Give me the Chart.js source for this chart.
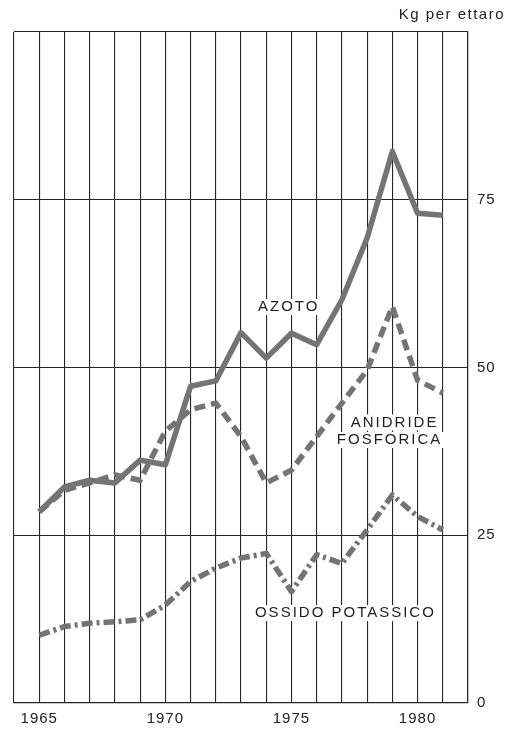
<!DOCTYPE html>
<html>
<head>
<meta charset="utf-8">
<script src="https://cdn.jsdelivr.net/npm/chart.js@4"></script>
<style>
  html, body { margin: 0; padding: 0; background: #fff; }
  canvas { display: block; letter-spacing: 1px; }
</style>
</head>
<body>
<canvas id="grafico" width="511" height="733"></canvas>
<script>
// Anni e consumi di fertilizzanti (kg per ettaro)
const anni = [1965, 1966, 1967, 1968, 1969, 1970, 1971, 1972, 1973, 1974, 1975, 1976, 1977, 1978, 1979, 1980, 1981];
const azoto = [28.5, 32.2, 33.2, 32.8, 36.2, 35.5, 47.2, 48.0, 55.2, 51.4, 55.1, 53.4, 60.1, 69.3, 82.2, 73.0, 72.7];
const anidrideFosforica = [28.5, 31.7, 32.8, 34.0, 33.2, 40.5, 43.7, 44.7, 39.7, 32.8, 34.7, 39.7, 44.7, 49.6, 59.1, 48.1, 46.2];
const ossidoPotassico = [10.1, 11.4, 11.9, 12.1, 12.4, 14.6, 18.1, 20.1, 21.6, 22.3, 16.6, 22.1, 20.8, 25.8, 31.0, 27.8, 25.8];
const anniEtichetta = [1965, 1970, 1975, 1980];
const valoriEtichetta = [0, 25, 50, 75];

const grigio = "#747474";
const nero = "#262626";
const font = "'Liberation Sans', Arial, sans-serif";

function serie(valori, dash) {
  return {
    data: anni.map((a, i) => ({ x: a, y: valori[i] })),
    borderColor: grigio,
    borderWidth: 5.5,
    borderDash: dash,
    borderCapStyle: "butt",
    borderJoinStyle: "round",
    pointRadius: 0,
    tension: 0
  };
}

// Nomi delle serie scritti dentro il grafico, su fondo bianco
const scritte = [
  { testo: "AZOTO", x: 1974.85, y: 59.0 },
  { testo: "ANIDRIDE", x: 1979.05, y: 41.8 },
  { testo: "FOSFORICA", x: 1978.85, y: 39.2 },
  { testo: "OSSIDO POTASSICO", x: 1977.1, y: 13.4 }
];

const pluginScritte = {
  id: "scritte",
  afterDatasetsDraw(chart) {
    const ctx = chart.ctx;
    const sx = chart.scales.x;
    const sy = chart.scales.y;
    ctx.save();
    ctx.font = "15px " + font;
    ctx.letterSpacing = "2px";
    ctx.textAlign = "center";
    ctx.textBaseline = "middle";
    scritte.forEach((s) => {
      const px = sx.getPixelForValue(s.x);
      const py = sy.getPixelForValue(s.y);
      const w = ctx.measureText(s.testo).width;
      ctx.fillStyle = "#fff";
      ctx.fillRect(px - w / 2 - 3, py - 8, w + 6, 16);
    });
    scritte.forEach((s) => {
      ctx.fillStyle = "#1e1e1e";
      ctx.fillText(s.testo, sx.getPixelForValue(s.x) + 1, sy.getPixelForValue(s.y));
    });
    // unità di misura in alto a destra
    ctx.font = "15px " + font;
    ctx.letterSpacing = "1.5px";
    ctx.textAlign = "right";
    ctx.fillText("Kg per ettaro", 505, 15);
    ctx.restore();
  }
};

new Chart(document.getElementById("grafico"), {
  type: "line",
  data: {
    datasets: [
      serie(azoto, []),
      serie(anidrideFosforica, [11, 6]),
      serie(ossidoPotassico, [11, 4, 3, 4])
    ]
  },
  options: {
    responsive: false,
    animation: false,
    layout: { padding: { top: 32, left: 14, right: 0, bottom: 0 } },
    plugins: {
      legend: { display: false },
      tooltip: { enabled: false }
    },
    scales: {
      x: {
        type: "linear",
        min: 1964,
        max: 1982,
        afterFit: (scale) => { scale.height = 30; },
        ticks: {
          stepSize: 1,
          autoSkip: false,
          maxRotation: 0,
          padding: 7,
          color: "#222",
          font: { family: font, size: 15 },
          callback: (v) => (anniEtichetta.includes(v) ? String(v) : "")
        },
        grid: { color: nero, lineWidth: 1.1, drawTicks: false },
        border: { color: nero, width: 1.2 }
      },
      y: {
        position: "right",
        min: 0,
        max: 100,
        afterFit: (scale) => { scale.width = 43; },
        ticks: {
          stepSize: 25,
          padding: 9,
          color: "#222",
          font: { family: font, size: 15 },
          callback: (v) => (valoriEtichetta.includes(v) ? String(v) : "")
        },
        grid: { color: nero, lineWidth: 1.1, drawTicks: false },
        border: { color: nero, width: 1.2 }
      }
    }
  },
  plugins: [pluginScritte]
});
</script>
</body>
</html>
